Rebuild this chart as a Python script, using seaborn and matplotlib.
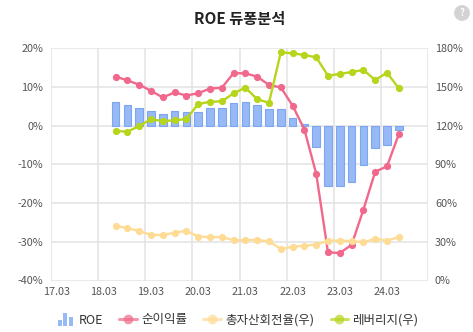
import matplotlib
matplotlib.use("Agg")
import matplotlib.pyplot as plt
import seaborn as sns
from matplotlib.legend_handler import HandlerBase
from matplotlib.patches import Rectangle
from matplotlib.lines import Line2D

# Quarterly category axis (one slot per quarter) and the labels shown on it
axis_quarters = [
    "17.03", "17.06", "17.09", "17.12", "18.03", "18.06", "18.09", "18.12",
    "19.03", "19.06", "19.09", "19.12", "20.03", "20.06", "20.09", "20.12",
    "21.03", "21.06", "21.09", "21.12", "22.03", "22.06", "22.09", "22.12",
    "23.03", "23.06", "23.09", "23.12", "24.03", "24.06", "24.09", "24.12",
]
tick_labels = ["17.03", "18.03", "19.03", "20.03", "21.03", "22.03", "23.03", "24.03"]

# Reported periods
periods = [
    "18.06", "18.09", "18.12", "19.03", "19.06", "19.09", "19.12", "20.03",
    "20.06", "20.09", "20.12", "21.03", "21.06", "21.09", "21.12", "22.03",
    "22.06", "22.09", "22.12", "23.03", "23.06", "23.09", "23.12", "24.03",
    "24.06",
]

# ROE (%), left axis
roe = [6.2, 5.3, 4.7, 3.9, 3.1, 3.9, 3.6, 3.6, 4.5, 4.5, 5.9, 6.2, 5.3,
       4.2, 4.2, 2.1, 0.5, -5.5, -15.5, -15.5, -14.5, -10.1, -5.8, -4.9, -1.0]
# 순이익률 (%), left axis
net_margin = [12.7, 11.7, 10.6, 9.0, 7.3, 8.6, 7.8, 8.4, 9.6, 9.8, 13.6, 13.5,
              12.7, 10.5, 9.9, 5.2, -1.0, -12.4, -32.7, -32.9, -30.8, -21.7,
              -11.9, -10.5, -2.2]
# 총자산회전율 (%), right axis
asset_turnover = [42.5, 40.5, 38.4, 35.3, 35.3, 37.0, 38.6, 34.0, 33.7, 33.7,
                  31.2, 31.4, 31.4, 30.4, 24.4, 26.2, 27.0, 27.8, 30.9, 30.9,
                  30.6, 29.6, 32.4, 30.9, 33.7]
# 레버리지 (%), right axis
leverage = [116.0, 115.3, 119.8, 125.0, 123.6, 124.2, 125.2, 136.8, 138.6,
            138.9, 145.1, 149.5, 140.5, 137.8, 176.9, 176.1, 174.8, 173.0,
            158.8, 160.1, 161.6, 163.2, 155.4, 161.1, 149.0]

BAR_FILL = "#97b9f6"
BAR_EDGE = "#7ea5f0"
PINK = "#f0698c"
YELLOW = "#fedc95"
GREEN = "#b6d51b"
GRID = "#e3e3e3"
TICK = "#555555"

sns.set_theme(style="white")
plt.rcParams["font.family"] = ["Noto Sans CJK KR", "DejaVu Sans"]

W, H = 473, 332
fig = plt.figure(figsize=(W / 100, H / 100), dpi=100)
ax1 = fig.add_axes([50.7 / W, 1 - 280.5 / H, (428.3 - 50.7) / W, (280.5 - 48.3) / H])
ax2 = ax1.twinx()

pos = [axis_quarters.index(p) for p in periods]

sns.barplot(x=pos, y=roe, native_scale=True, width=0.66, color=BAR_FILL,
            saturation=1, edgecolor=BAR_EDGE, linewidth=0.8, errorbar=None,
            ax=ax1, zorder=2)
sns.lineplot(x=pos, y=net_margin, ax=ax1, color=PINK, marker="o",
             markersize=5.2, markeredgewidth=0, linewidth=1.7, zorder=3)
sns.lineplot(x=pos, y=asset_turnover, ax=ax2, color=YELLOW, marker="o",
             markersize=5.2, markeredgewidth=0, linewidth=1.7, zorder=3)
sns.lineplot(x=pos, y=leverage, ax=ax2, color=GREEN, marker="o",
             markersize=5.2, markeredgewidth=0, linewidth=1.7, zorder=4)

for ax in (ax1, ax2):
    ax.set_xlim(-0.5, len(axis_quarters) - 0.5)
    for s in ax.spines.values():
        s.set_visible(False)
    ax.set_xlabel("")
    ax.set_ylabel("")

ax1.set_ylim(-40, 20)
ax1.set_yticks(range(-40, 21, 10))
ax1.set_yticklabels([f"{v}%" for v in range(-40, 21, 10)])
ax2.set_ylim(0, 180)
ax2.set_yticks(range(0, 181, 30))
ax2.set_yticklabels([f"{v}%" for v in range(0, 181, 30)])

ax1.set_xticks([axis_quarters.index(t) for t in tick_labels])
ax1.set_xticklabels(tick_labels)
ax1.set_xticks([i - 0.5 for i in range(0, len(axis_quarters) + 1, 4)], minor=True)

ax1.set_axisbelow(True)
ax1.grid(True, which="major", axis="y", color=GRID, linewidth=1.1)
ax1.grid(True, which="minor", axis="x", color=GRID, linewidth=1.1)
ax1.grid(False, which="major", axis="x")
ax2.grid(False)
ax2.patch.set_visible(False)

ax1.tick_params(axis="both", which="both", length=0, labelsize=7.8, colors=TICK)
ax1.tick_params(axis="x", pad=5)
ax1.tick_params(axis="y", pad=5.3)
ax2.tick_params(axis="y", length=0, labelsize=7.8, colors=TICK, pad=4.8)


class BarIconHandler(HandlerBase):
    """Small three-column glyph used as the bar series' legend key."""

    def create_artists(self, legend, orig_handle, xdescent, ydescent,
                       width, height, fontsize, trans):
        arts = []
        bw = width * 0.22
        gap = width * 0.09
        x0 = -xdescent + width * 0.08
        base = -ydescent - height * 0.25
        for i, h in enumerate([0.7, 1.45, 0.95]):
            r = Rectangle((x0 + i * (bw + gap), base), bw, height * h,
                          facecolor=BAR_FILL, edgecolor="none", transform=trans)
            arts.append(r)
        return arts


bar_handle = Rectangle((0, 0), 1, 1)
line_handles = [
    Line2D([], [], color=c, marker="o", markersize=7, markeredgewidth=0,
           linewidth=2.2, alpha=0.7)
    for c in (PINK, YELLOW, GREEN)
]
fig.legend([bar_handle] + line_handles,
           ["ROE", "순이익률", "총자산회전율(우)", "레버리지(우)"],
           handler_map={Rectangle: BarIconHandler()},
           loc="center", bbox_to_anchor=(237.5 / W, 1 - 320 / H), ncol=4,
           frameon=False, fontsize=9, handlelength=1.4, handletextpad=0.35,
           columnspacing=1.3, labelcolor="#333333")

fig.text(240 / W, 1 - 19 / H, "ROE 듀퐁분석", ha="center", va="center",
         fontsize=11, fontweight="bold", color="#222222")
fig.text(462 / W, 1 - 13 / H, "?", ha="center", va="center", fontsize=7,
         fontweight="bold", color="white",
         bbox=dict(boxstyle="circle,pad=0.3", fc="#d3d3d3", ec="none"))

fig.savefig("out.png", dpi=100)
